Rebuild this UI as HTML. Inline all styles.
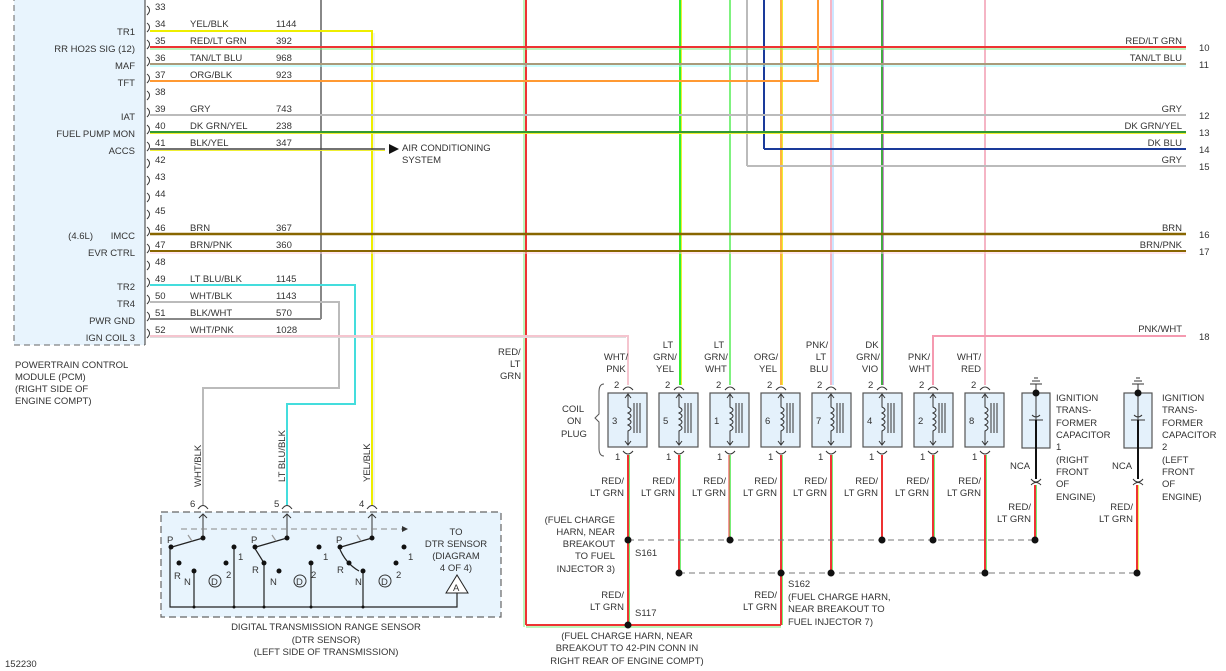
<!DOCTYPE html>
<html><head><meta charset="utf-8"><style>
html,body{margin:0;padding:0;background:#fff;}
svg{display:block;}
text{font-family:"Liberation Sans",sans-serif;font-size:9.5px;fill:#333;}
</style></head><body>
<svg width="1226" height="671" viewBox="0 0 1226 671" xmlns="http://www.w3.org/2000/svg">
<!-- PCM box -->
<rect x="14" y="-5" width="131" height="350" fill="#e8f4fd"/>
<line x1="14" y1="-5" x2="14" y2="345" stroke="#666" stroke-dasharray="6,4"/>
<line x1="14" y1="345" x2="145" y2="345" stroke="#666" stroke-dasharray="6,4"/>
<line x1="145" y1="-5" x2="145" y2="345" stroke="#555" stroke-width="1.2"/>
<g fill="none" stroke="#333" stroke-width="1">
<path d="M147,6 q5,4 0,9"/><path d="M147,23 q5,4 0,9"/><path d="M147,40 q5,4 0,9"/><path d="M147,57 q5,4 0,9"/><path d="M147,74 q5,4 0,9"/><path d="M147,91 q5,4 0,9"/><path d="M147,108 q5,4 0,9"/><path d="M147,125 q5,4 0,9"/><path d="M147,142 q5,4 0,9"/><path d="M147,159 q5,4 0,9"/><path d="M147,176 q5,4 0,9"/><path d="M147,193 q5,4 0,9"/><path d="M147,210 q5,4 0,9"/><path d="M147,227 q5,4 0,9"/><path d="M147,244 q5,4 0,9"/><path d="M147,261 q5,4 0,9"/><path d="M147,278 q5,4 0,9"/><path d="M147,295 q5,4 0,9"/><path d="M147,312 q5,4 0,9"/><path d="M147,329 q5,4 0,9"/>
</g>
<!-- pin numbers -->
<g>
<text x="155" y="10">33</text><text x="155" y="27">34</text><text x="155" y="44">35</text><text x="155" y="61">36</text><text x="155" y="78">37</text><text x="155" y="95">38</text><text x="155" y="112">39</text><text x="155" y="129">40</text><text x="155" y="146">41</text><text x="155" y="163">42</text><text x="155" y="180">43</text><text x="155" y="197">44</text><text x="155" y="214">45</text><text x="155" y="231">46</text><text x="155" y="248">47</text><text x="155" y="265">48</text><text x="155" y="282">49</text><text x="155" y="299">50</text><text x="155" y="316">51</text><text x="155" y="333">52</text>
</g>
<g>
<text x="190" y="27">YEL/BLK</text><text x="276" y="27">1144</text>
<text x="190" y="44">RED/LT GRN</text><text x="276" y="44">392</text>
<text x="190" y="61">TAN/LT BLU</text><text x="276" y="61">968</text>
<text x="190" y="78">ORG/BLK</text><text x="276" y="78">923</text>
<text x="190" y="112">GRY</text><text x="276" y="112">743</text>
<text x="190" y="129">DK GRN/YEL</text><text x="276" y="129">238</text>
<text x="190" y="146">BLK/YEL</text><text x="276" y="146">347</text>
<text x="190" y="231">BRN</text><text x="276" y="231">367</text>
<text x="190" y="248">BRN/PNK</text><text x="276" y="248">360</text>
<text x="190" y="282">LT BLU/BLK</text><text x="276" y="282">1145</text>
<text x="190" y="299">WHT/BLK</text><text x="276" y="299">1143</text>
<text x="190" y="316">BLK/WHT</text><text x="276" y="316">570</text>
<text x="190" y="333">WHT/PNK</text><text x="276" y="333">1028</text>
</g>
<g text-anchor="end">
<text x="135" y="0">KS SENSOR</text>
<text x="135" y="35">TR1</text><text x="135" y="52">RR HO2S SIG (12)</text><text x="135" y="69">MAF</text><text x="135" y="86">TFT</text><text x="135" y="120">IAT</text><text x="135" y="137">FUEL PUMP MON</text><text x="135" y="154">ACCS</text><text x="135" y="239">IMCC</text><text x="93" y="239">(4.6L)</text><text x="135" y="256">EVR CTRL</text><text x="135" y="290">TR2</text><text x="135" y="307">TR4</text><text x="135" y="324">PWR GND</text><text x="135" y="341">IGN COIL 3</text>
</g>
<text x="15" y="368">POWERTRAIN CONTROL</text><text x="15" y="380">MODULE (PCM)</text><text x="15" y="392">(RIGHT SIDE OF</text><text x="15" y="404">ENGINE COMPT)</text>
<text x="5" y="667">152230</text>

<!-- vertical wires top -->
<line x1="526" y1="0" x2="526" y2="625" stroke="#e33" stroke-width="2"/><line x1="524" y1="0" x2="524" y2="627" stroke="#7e7" stroke-width="1"/>
<line x1="680" y1="0" x2="680" y2="385" stroke="#3e3" stroke-width="2"/><line x1="681.5" y1="0" x2="681.5" y2="385" stroke="#ee3" stroke-width="1"/>
<line x1="730" y1="0" x2="730" y2="385" stroke="#5e5" stroke-width="1.5"/>
<line x1="747" y1="0" x2="747" y2="166" stroke="#bbb" stroke-width="2"/>
<line x1="764" y1="0" x2="764" y2="149" stroke="#1a3a9a" stroke-width="2"/>
<line x1="781" y1="0" x2="781" y2="385" stroke="#f90" stroke-width="1.5"/><line x1="782.5" y1="0" x2="782.5" y2="385" stroke="#ee3" stroke-width="1"/>
<line x1="831" y1="0" x2="831" y2="385" stroke="#f5b5c5" stroke-width="2"/><line x1="833" y1="0" x2="833" y2="385" stroke="#9cf" stroke-width="1"/>
<line x1="882" y1="0" x2="882" y2="385" stroke="#4a4" stroke-width="2"/><line x1="883.5" y1="0" x2="883.5" y2="385" stroke="#c8c" stroke-width="1"/>
<line x1="985" y1="0" x2="985" y2="385" stroke="#f5b5c5" stroke-width="2"/>
<line x1="321" y1="0" x2="321" y2="319" stroke="#888" stroke-width="2"/>

<!-- horizontal wires -->
<polyline points="150,31 372,31 372,505" fill="none" stroke="#ee0" stroke-width="2"/><line x1="374" y1="33" x2="374" y2="505" stroke="#ccc" stroke-width="0.6"/>
<line x1="150" y1="47" x2="1186" y2="47" stroke="#e33" stroke-width="2"/><line x1="150" y1="49" x2="1186" y2="49" stroke="#7e7" stroke-width="1"/>
<line x1="150" y1="64" x2="1186" y2="64" stroke="#aa9a7a" stroke-width="2"/><line x1="150" y1="66" x2="1186" y2="66" stroke="#9ff" stroke-width="1"/>
<polyline points="150,81 818,81 818,0" fill="none" stroke="#f93" stroke-width="2"/>
<line x1="150" y1="115" x2="1186" y2="115" stroke="#bbb" stroke-width="2"/>
<line x1="150" y1="132" x2="1186" y2="132" stroke="#393" stroke-width="2"/><line x1="150" y1="133.5" x2="1186" y2="133.5" stroke="#ee3" stroke-width="1"/>
<line x1="150" y1="149" x2="385" y2="149" stroke="#444" stroke-width="1.5"/><line x1="150" y1="150.5" x2="385" y2="150.5" stroke="#ee3" stroke-width="1"/>
<polygon points="389,144 399,149 389,154" fill="#111"/>
<text x="402" y="151">AIR CONDITIONING</text><text x="402" y="163">SYSTEM</text>
<polyline points="764,149 1186,149" fill="none" stroke="#1a3a9a" stroke-width="2"/>
<polyline points="747,166 1186,166" fill="none" stroke="#bbb" stroke-width="2"/>
<line x1="150" y1="234" x2="1186" y2="234" stroke="#860" stroke-width="2.5"/>
<line x1="150" y1="251" x2="1186" y2="251" stroke="#860" stroke-width="2"/><line x1="150" y1="253" x2="1186" y2="253" stroke="#fcd" stroke-width="1"/>
<polyline points="150,285 355,285 355,404 287,404 287,505" fill="none" stroke="#4dd" stroke-width="2"/>
<polyline points="150,302 339,302 339,388 203,388 203,505" fill="none" stroke="#bbb" stroke-width="2"/>
<polyline points="150,319 321,319" fill="none" stroke="#888" stroke-width="2"/>
<polyline points="150,336 628,336 628,385" fill="none" stroke="#f5c5cf" stroke-width="2"/><line x1="150" y1="337.5" x2="626" y2="337.5" stroke="#ddd" stroke-width="1"/>
<polyline points="1186,336 933,336 933,385" fill="none" stroke="#f59ab0" stroke-width="2"/>

<!-- right labels -->
<g text-anchor="end">
<text x="1182" y="44">RED/LT GRN</text><text x="1182" y="61">TAN/LT BLU</text><text x="1182" y="112">GRY</text><text x="1182" y="129">DK GRN/YEL</text><text x="1182" y="146">DK BLU</text><text x="1182" y="163">GRY</text><text x="1182" y="231">BRN</text><text x="1182" y="248">BRN/PNK</text><text x="1182" y="332">PNK/WHT</text>
</g>
<text x="1199" y="51">10</text><text x="1199" y="68">11</text><text x="1199" y="119">12</text><text x="1199" y="136">13</text><text x="1199" y="153">14</text><text x="1199" y="170">15</text><text x="1199" y="238">16</text><text x="1199" y="255">17</text><text x="1199" y="340">18</text>
<text x="498" y="355">RED/</text><text x="510" y="367">LT</text><text x="500" y="379">GRN</text>

<!-- coils -->
<g text-anchor="middle">
<text x="616" y="360">WHT/</text><text x="616" y="372">PNK</text>
<text x="668" y="348">LT</text><text x="665" y="360">GRN/</text><text x="665" y="372">YEL</text>
<text x="719" y="348">LT</text><text x="716" y="360">GRN/</text><text x="716" y="372">WHT</text>
<text x="766" y="360">ORG/</text><text x="768" y="372">YEL</text>
<text x="817" y="348">PNK/</text><text x="821" y="360">LT</text><text x="819" y="372">BLU</text>
<text x="872" y="348">DK</text><text x="868" y="360">GRN/</text><text x="870" y="372">VIO</text>
<text x="919" y="360">PNK/</text><text x="920" y="372">WHT</text>
<text x="969" y="360">WHT/</text><text x="971" y="372">RED</text>
</g>
<text x="562" y="412">COIL</text><text x="567" y="424">ON</text><text x="561" y="437">PLUG</text>
<path d="M604,384 q-5,0 -5,8 v22 l-4,4 l4,4 v26 q0,8 5,8" fill="none" stroke="#555"/>

<g id="c3">
<rect x="608" y="393" width="39" height="54" fill="#e4f1fb" stroke="#555" stroke-width="1.2"/>
</g>
<rect x="659" y="393" width="39" height="54" fill="#e4f1fb" stroke="#555" stroke-width="1.2"/>
<rect x="710" y="393" width="39" height="54" fill="#e4f1fb" stroke="#555" stroke-width="1.2"/>
<rect x="761" y="393" width="39" height="54" fill="#e4f1fb" stroke="#555" stroke-width="1.2"/>
<rect x="812" y="393" width="39" height="54" fill="#e4f1fb" stroke="#555" stroke-width="1.2"/>
<rect x="863" y="393" width="39" height="54" fill="#e4f1fb" stroke="#555" stroke-width="1.2"/>
<rect x="914" y="393" width="39" height="54" fill="#e4f1fb" stroke="#555" stroke-width="1.2"/>
<rect x="965" y="393" width="39" height="54" fill="#e4f1fb" stroke="#555" stroke-width="1.2"/>
<g fill="none" stroke="#333" stroke-width="1">
<path d="M628,395 v12 q6,3 0,6 q6,3 0,6 q6,3 0,6 q6,3 0,6 v13 M625,398 l3,-4 l3,4 M625,441 l3,4 l3,-4 M634,403 v30 M637,403 v30 M640,403 v30"/>
<path d="M679,395 v12 q6,3 0,6 q6,3 0,6 q6,3 0,6 q6,3 0,6 v13 M676,398 l3,-4 l3,4 M676,441 l3,4 l3,-4 M685,403 v30 M688,403 v30 M691,403 v30"/>
<path d="M730,395 v12 q6,3 0,6 q6,3 0,6 q6,3 0,6 q6,3 0,6 v13 M727,398 l3,-4 l3,4 M727,441 l3,4 l3,-4 M736,403 v30 M739,403 v30 M742,403 v30"/>
<path d="M781,395 v12 q6,3 0,6 q6,3 0,6 q6,3 0,6 q6,3 0,6 v13 M778,398 l3,-4 l3,4 M778,441 l3,4 l3,-4 M787,403 v30 M790,403 v30 M793,403 v30"/>
<path d="M831,395 v12 q6,3 0,6 q6,3 0,6 q6,3 0,6 q6,3 0,6 v13 M828,398 l3,-4 l3,4 M828,441 l3,4 l3,-4 M837,403 v30 M840,403 v30 M843,403 v30"/>
<path d="M882,395 v12 q6,3 0,6 q6,3 0,6 q6,3 0,6 q6,3 0,6 v13 M879,398 l3,-4 l3,4 M879,441 l3,4 l3,-4 M888,403 v30 M891,403 v30 M894,403 v30"/>
<path d="M933,395 v12 q6,3 0,6 q6,3 0,6 q6,3 0,6 q6,3 0,6 v13 M930,398 l3,-4 l3,4 M930,441 l3,4 l3,-4 M939,403 v30 M942,403 v30 M945,403 v30"/>
<path d="M985,395 v12 q6,3 0,6 q6,3 0,6 q6,3 0,6 q6,3 0,6 v13 M982,398 l3,-4 l3,4 M982,441 l3,4 l3,-4 M991,403 v30 M994,403 v30 M997,403 v30"/>
</g>
<g fill="none" stroke="#333">
<path d="M623,390 q5,-6 10,0 M623,451 q5,6 10,0"/><path d="M674,390 q5,-6 10,0 M674,451 q5,6 10,0"/><path d="M725,390 q5,-6 10,0 M725,451 q5,6 10,0"/><path d="M776,390 q5,-6 10,0 M776,451 q5,6 10,0"/><path d="M826,390 q5,-6 10,0 M826,451 q5,6 10,0"/><path d="M877,390 q5,-6 10,0 M877,451 q5,6 10,0"/><path d="M928,390 q5,-6 10,0 M928,451 q5,6 10,0"/><path d="M980,390 q5,-6 10,0 M980,451 q5,6 10,0"/>
</g>
<g>
<text x="612" y="424">3</text><text x="663" y="424">5</text><text x="714" y="424">1</text><text x="765" y="424">6</text><text x="816" y="424">7</text><text x="867" y="424">4</text><text x="918" y="424">2</text><text x="969" y="424">8</text>
<text x="614" y="388">2</text><text x="665" y="388">2</text><text x="716" y="388">2</text><text x="767" y="388">2</text><text x="817" y="388">2</text><text x="868" y="388">2</text><text x="919" y="388">2</text><text x="971" y="388">2</text>
<text x="615" y="460">1</text><text x="666" y="460">1</text><text x="717" y="460">1</text><text x="768" y="460">1</text><text x="818" y="460">1</text><text x="869" y="460">1</text><text x="920" y="460">1</text><text x="972" y="460">1</text>
</g>
<!-- lower red wires -->
<g stroke-width="2">
<line x1="628" y1="455" x2="628" y2="625" stroke="#e33"/><line x1="629.5" y1="455" x2="629.5" y2="622" stroke="#7e7" stroke-width="1"/>
<line x1="679" y1="455" x2="679" y2="573" stroke="#e33"/><line x1="680.5" y1="455" x2="680.5" y2="573" stroke="#7e7" stroke-width="1"/>
<line x1="730" y1="455" x2="730" y2="540" stroke="#7e7"/><line x1="729" y1="455" x2="729" y2="540" stroke="#e33" stroke-width="1"/>
<line x1="781" y1="455" x2="781" y2="625" stroke="#e33"/><line x1="782.5" y1="455" x2="782.5" y2="625" stroke="#7e7" stroke-width="1"/>
<line x1="831" y1="455" x2="831" y2="573" stroke="#e33"/><line x1="832.5" y1="455" x2="832.5" y2="573" stroke="#7e7" stroke-width="1"/>
<line x1="882" y1="455" x2="882" y2="540" stroke="#e33"/>
<line x1="933" y1="455" x2="933" y2="540" stroke="#e33"/><line x1="934.5" y1="455" x2="934.5" y2="540" stroke="#7e7" stroke-width="1"/>
<line x1="985" y1="455" x2="985" y2="573" stroke="#e33"/><line x1="986.5" y1="455" x2="986.5" y2="573" stroke="#7e7" stroke-width="1"/>
<line x1="1035" y1="485" x2="1035" y2="540" stroke="#e33"/><line x1="1036.5" y1="485" x2="1036.5" y2="540" stroke="#7e7" stroke-width="1"/>
<line x1="1137" y1="485" x2="1137" y2="573" stroke="#e33"/><line x1="1138.5" y1="485" x2="1138.5" y2="573" stroke="#ee6" stroke-width="1"/>
<polyline points="526,625 781,625" fill="none" stroke="#e33"/><line x1="526" y1="627" x2="781" y2="627" stroke="#7e7" stroke-width="1"/>
</g>
<g text-anchor="end">
<text x="624" y="484">RED/</text><text x="624" y="496">LT GRN</text>
<text x="675" y="484">RED/</text><text x="675" y="496">LT GRN</text>
<text x="726" y="484">RED/</text><text x="726" y="496">LT GRN</text>
<text x="777" y="484">RED/</text><text x="777" y="496">LT GRN</text>
<text x="827" y="484">RED/</text><text x="827" y="496">LT GRN</text>
<text x="878" y="484">RED/</text><text x="878" y="496">LT GRN</text>
<text x="929" y="484">RED/</text><text x="929" y="496">LT GRN</text>
<text x="981" y="484">RED/</text><text x="981" y="496">LT GRN</text>
<text x="1031" y="510">RED/</text><text x="1031" y="522">LT GRN</text>
<text x="1133" y="510">RED/</text><text x="1133" y="522">LT GRN</text>
<text x="624" y="598">RED/</text><text x="624" y="610">LT GRN</text>
<text x="777" y="598">RED/</text><text x="777" y="610">LT GRN</text>
<text x="615" y="523">(FUEL CHARGE</text><text x="615" y="535">HARN, NEAR</text><text x="615" y="547">BREAKOUT</text><text x="615" y="559">TO FUEL</text><text x="615" y="572">INJECTOR 3)</text>
</g>
<line x1="628" y1="540" x2="1035" y2="540" stroke="#777" stroke-dasharray="6,4"/>
<line x1="679" y1="573" x2="1137" y2="573" stroke="#777" stroke-dasharray="6,4"/>
<g fill="#111">
<circle cx="628" cy="540" r="3.5"/><circle cx="730" cy="540" r="3.5"/><circle cx="882" cy="540" r="3.5"/><circle cx="933" cy="540" r="3.5"/><circle cx="1035" cy="540" r="3.5"/>
<circle cx="679" cy="573" r="3.5"/><circle cx="781" cy="573" r="3.5"/><circle cx="831" cy="573" r="3.5"/><circle cx="985" cy="573" r="3.5"/><circle cx="1137" cy="573" r="3.5"/>
<circle cx="628" cy="625" r="3.5"/>
</g>
<text x="635" y="556">S161</text>
<text x="788" y="587">S162</text><text x="788" y="600">(FUEL CHARGE HARN,</text><text x="788" y="612">NEAR BREAKOUT TO</text><text x="788" y="625">FUEL INJECTOR 7)</text>
<text x="635" y="616">S117</text>
<g text-anchor="middle"><text x="627" y="639">(FUEL CHARGE HARN, NEAR</text><text x="627" y="651">BREAKOUT TO 42-PIN CONN IN</text><text x="627" y="664">RIGHT REAR OF ENGINE COMPT)</text></g>

<!-- capacitors -->
<g>
<rect x="1022" y="393" width="28" height="55" fill="#e4f1fb" stroke="#555" stroke-width="1.2"/>
<rect x="1124" y="393" width="28" height="55" fill="#e4f1fb" stroke="#555" stroke-width="1.2"/>
<g stroke="#333" fill="none">
<path d="M1036,384 v36 M1029,420 h14 M1032,415 q4,4 8,0 M1030,384 h12 M1032,381 h8 M1034,378 h4"/>
<path d="M1138,384 v36 M1131,420 h14 M1134,415 q4,4 8,0 M1132,384 h12 M1134,381 h8 M1136,378 h4"/>
<path d="M1031,479 q5,6 10,0 M1031,485 q5,-5 10,0"/><path d="M1133,479 q5,6 10,0 M1133,485 q5,-5 10,0"/>
</g>
<line x1="1036" y1="420" x2="1036" y2="479" stroke="#111" stroke-width="2"/>
<line x1="1138" y1="420" x2="1138" y2="479" stroke="#111" stroke-width="2"/>
<circle cx="1036" cy="393" r="3.5" fill="#111"/><circle cx="1138" cy="393" r="3.5" fill="#111"/>
<text x="1010" y="469">NCA</text><text x="1112" y="469">NCA</text>
<text x="1056" y="401">IGNITION</text><text x="1056" y="413">TRANS-</text><text x="1056" y="426">FORMER</text><text x="1056" y="438">CAPACITOR</text><text x="1056" y="450">1</text><text x="1056" y="463">(RIGHT</text><text x="1056" y="475">FRONT</text><text x="1056" y="487">OF</text><text x="1056" y="500">ENGINE)</text>
<text x="1162" y="401">IGNITION</text><text x="1162" y="413">TRANS-</text><text x="1162" y="426">FORMER</text><text x="1162" y="438">CAPACITOR</text><text x="1162" y="450">2</text><text x="1162" y="463">(LEFT</text><text x="1162" y="475">FRONT</text><text x="1162" y="487">OF</text><text x="1162" y="500">ENGINE)</text>
</g>

<!-- DTR sensor -->
<rect x="161" y="512" width="340" height="105" fill="#e8f4fd" stroke="#666" stroke-dasharray="7,4" stroke-width="1.2"/>
<text transform="translate(201,487) rotate(-90)">WHT/BLK</text>
<text transform="translate(285,482) rotate(-90)">LT BLU/BLK</text>
<text transform="translate(370,482) rotate(-90)">YEL/BLK</text>
<text x="190" y="507">6</text><text x="274" y="507">5</text><text x="359" y="507">4</text>
<g fill="none" stroke="#333">
<path d="M198,509 q5,-7 10,0 M282,509 q5,-7 10,0 M367,509 q5,-7 10,0"/>
<path d="M203,514 v24 M199,518 l4,-4 l4,4 M287,514 v24 M283,518 l4,-4 l4,4 M372,514 v24 M368,518 l4,-4 l4,4"/>
</g>
<line x1="181" y1="529" x2="402" y2="529" stroke="#888" stroke-dasharray="6,4"/>
<polygon points="402,526 408,529 402,532" fill="#333"/>
<g stroke="#222" stroke-width="1.2" fill="none">
<path d="M203,538 L172,547 M170,547 V607 H457 V593"/>
<path d="M194,571 V607 M234,547 V607"/>
<path d="M287,538 L256,547 M254,547 q5,8 10,16 M264,563 V607 M311,563 V607"/>
<path d="M372,538 L341,547 M339,547 q6,16 20,24 M363,571 V607"/>
<path d="M188,535 l4,6 M272,535 l4,6 M357,535 l4,6" stroke="#999"/>
</g>
<polygon points="446,593 457,575 468,593" fill="#fff" stroke="#222"/>
<text x="453" y="591">A</text>
<g fill="#111">
<circle cx="203" cy="538" r="2.5"/><circle cx="171" cy="547" r="2.5"/><circle cx="234" cy="547" r="2.5"/><circle cx="179" cy="563" r="2.5"/><circle cx="194" cy="571" r="2.5"/><circle cx="226" cy="563" r="2.5"/>
<circle cx="287" cy="538" r="2.5"/><circle cx="255" cy="547" r="2.5"/><circle cx="319" cy="547" r="2.5"/><circle cx="264" cy="563" r="2.5"/><circle cx="279" cy="571" r="2.5"/><circle cx="311" cy="563" r="2.5"/>
<circle cx="372" cy="538" r="2.5"/><circle cx="340" cy="547" r="2.5"/><circle cx="404" cy="547" r="2.5"/><circle cx="349" cy="563" r="2.5"/><circle cx="363" cy="571" r="2.5"/><circle cx="396" cy="563" r="2.5"/>
<circle cx="194" cy="607" r="1.5"/><circle cx="234" cy="607" r="1.5"/><circle cx="264" cy="607" r="1.5"/><circle cx="311" cy="607" r="1.5"/><circle cx="363" cy="607" r="1.5"/>
</g>
<g fill="none" stroke="#333"><circle cx="215" cy="581" r="6"/><circle cx="300" cy="581" r="6"/><circle cx="385" cy="581" r="6"/></g>
<text x="167" y="543">P</text><text x="251" y="543">P</text><text x="336" y="543">P</text>
<text x="238" y="560">1</text><text x="323" y="560">1</text><text x="408" y="560">1</text>
<text x="174" y="579">R</text><text x="252" y="573">R</text><text x="337" y="573">R</text>
<text x="184" y="585">N</text><text x="270" y="585">N</text><text x="355" y="585">N</text>
<text x="211" y="585" font-size="8">D</text><text x="296" y="585" font-size="8">D</text><text x="381" y="585" font-size="8">D</text>
<text x="226" y="578">2</text><text x="311" y="578">2</text><text x="396" y="578">2</text>
<g text-anchor="middle"><text x="456" y="535">TO</text><text x="456" y="547">DTR SENSOR</text><text x="456" y="559">(DIAGRAM</text><text x="456" y="571">4 OF 4)</text>
<text x="326" y="630">DIGITAL TRANSMISSION RANGE SENSOR</text><text x="326" y="643">(DTR SENSOR)</text><text x="326" y="655">(LEFT SIDE OF TRANSMISSION)</text></g>
</svg>
</body></html>
